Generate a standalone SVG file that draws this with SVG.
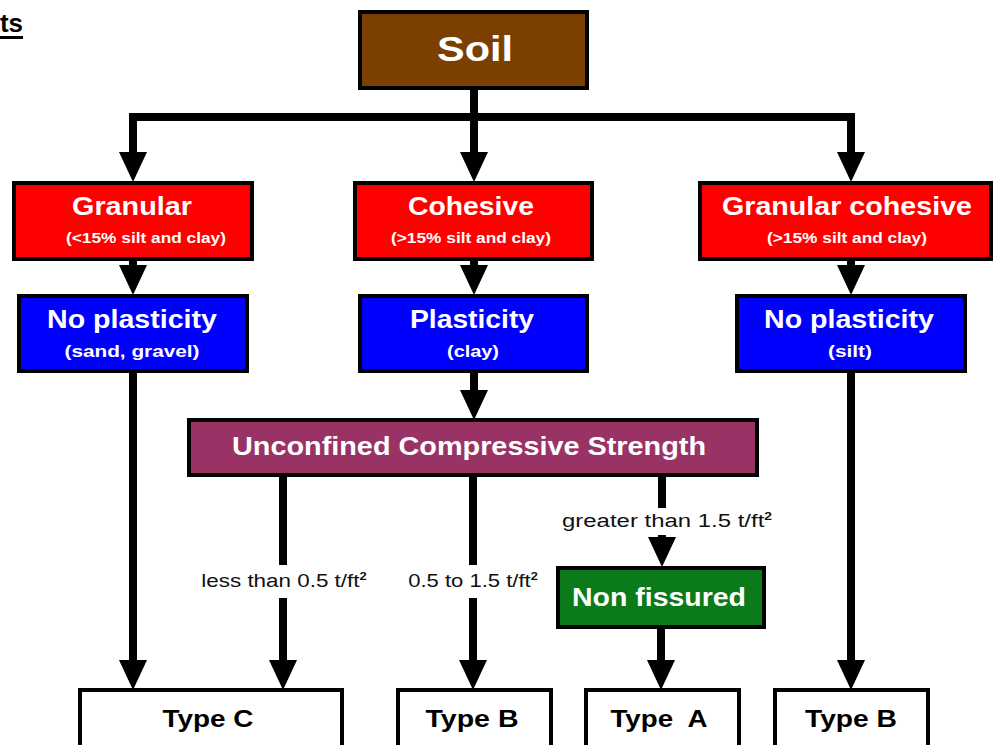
<svg xmlns="http://www.w3.org/2000/svg" width="994" height="745" viewBox="0 0 994 745">
<style>
.box{stroke:#000;stroke-width:4}
.t{font-family:"Liberation Sans",Arial,sans-serif;font-weight:bold;text-anchor:middle}
.w{fill:#fff}
.k{fill:#000}
.lbl{font-family:"Liberation Sans",Arial,sans-serif;font-size:19px;fill:#111;text-anchor:middle}
.sup{font-size:11px;font-weight:bold}
.c{stroke:#000;stroke-width:8;fill:none}
</style>
<defs>
<marker id="ah" markerUnits="userSpaceOnUse" markerWidth="32" markerHeight="30" viewBox="0 -15 32 30" refX="0" refY="0" orient="auto">
<path d="M0,-14 L30,0 L0,14 z" fill="#000"/>
</marker>
</defs>
<rect width="994" height="745" fill="#fff"/>
<g id="title">
<text x="23" y="32" class="t k" style="font-size:26px;text-anchor:end">ts</text>
<rect x="0" y="36" width="23" height="3" fill="#000"/>
</g>
<g id="connectors">
<path class="c" d="M474,88 V117 M129,117 H855"/>
<path class="c" d="M133,117 V152" marker-end="url(#ah)"/>
<path class="c" d="M474,117 V152" marker-end="url(#ah)"/>
<path class="c" d="M851,117 V152" marker-end="url(#ah)"/>
<path class="c" d="M133,260 V265" marker-end="url(#ah)"/>
<path class="c" d="M474,260 V265" marker-end="url(#ah)"/>
<path class="c" d="M851,260 V265" marker-end="url(#ah)"/>
<path class="c" d="M133,372 V660" marker-end="url(#ah)"/>
<path class="c" d="M851,372 V660" marker-end="url(#ah)"/>
<path class="c" d="M474,372 V390" marker-end="url(#ah)"/>
<path class="c" d="M283,475 V565"/>
<path class="c" d="M283,598 V660" marker-end="url(#ah)"/>
<path class="c" d="M473,475 V565"/>
<path class="c" d="M473,598 V660" marker-end="url(#ah)"/>
<path class="c" d="M662,475 V508"/>
<path class="c" d="M662,535 V537" marker-end="url(#ah)"/>
<path class="c" d="M661,627 V660" marker-end="url(#ah)"/>
<text transform="translate(284,587) scale(1.18,1)" class="lbl">less than 0.5 t/ft<tspan dy="-7" class="sup">2</tspan></text>
<text transform="translate(473,587) scale(1.16,1)" class="lbl">0.5 to 1.5 t/ft<tspan dy="-7" class="sup">2</tspan></text>
<text transform="translate(667,527) scale(1.26,1)" class="lbl">greater than 1.5 t/ft<tspan dy="-7" class="sup">2</tspan></text>
</g>
<g id="soil">
<rect x="360" y="12" width="227" height="76" class="box" fill="#7b3f00"/>
<text x="475" y="61" class="t w" style="font-size:35px" textLength="76" lengthAdjust="spacingAndGlyphs">Soil</text>
</g>
<g id="granular">
<rect x="14" y="183" width="238" height="76" class="box" fill="#ff0000"/>
<text x="132" y="215" class="t w" style="font-size:25px" textLength="120" lengthAdjust="spacingAndGlyphs">Granular</text>
<text x="146" y="243" class="t w" style="font-size:15px" textLength="160" lengthAdjust="spacingAndGlyphs">(&lt;15% silt and clay)</text>
</g>
<g id="cohesive">
<rect x="355" y="183" width="237" height="76" class="box" fill="#ff0000"/>
<text x="471" y="215" class="t w" style="font-size:25px" textLength="126" lengthAdjust="spacingAndGlyphs">Cohesive</text>
<text x="471" y="243" class="t w" style="font-size:15px" textLength="160" lengthAdjust="spacingAndGlyphs">(&gt;15% silt and clay)</text>
</g>
<g id="granular-cohesive">
<rect x="700" y="183" width="291" height="76" class="box" fill="#ff0000"/>
<text x="847" y="215" class="t w" style="font-size:25px" textLength="250" lengthAdjust="spacingAndGlyphs">Granular cohesive</text>
<text x="847" y="243" class="t w" style="font-size:15px" textLength="160" lengthAdjust="spacingAndGlyphs">(&gt;15% silt and clay)</text>
</g>
<g id="no-plasticity-left">
<rect x="19" y="296" width="228" height="75" class="box" fill="#0000ff"/>
<text x="132" y="328" class="t w" style="font-size:25px" textLength="170" lengthAdjust="spacingAndGlyphs">No plasticity</text>
<text x="132" y="357" class="t w" style="font-size:16px" textLength="135" lengthAdjust="spacingAndGlyphs">(sand, gravel)</text>
</g>
<g id="plasticity">
<rect x="360" y="296" width="227" height="75" class="box" fill="#0000ff"/>
<text x="472" y="328" class="t w" style="font-size:25px" textLength="124" lengthAdjust="spacingAndGlyphs">Plasticity</text>
<text x="473" y="357" class="t w" style="font-size:16px" textLength="52" lengthAdjust="spacingAndGlyphs">(clay)</text>
</g>
<g id="no-plasticity-right">
<rect x="737" y="296" width="228" height="75" class="box" fill="#0000ff"/>
<text x="849" y="328" class="t w" style="font-size:25px" textLength="170" lengthAdjust="spacingAndGlyphs">No plasticity</text>
<text x="850" y="357" class="t w" style="font-size:16px" textLength="44" lengthAdjust="spacingAndGlyphs">(silt)</text>
</g>
<g id="ucs">
<rect x="189" y="420" width="568" height="55" class="box" fill="#993366"/>
<text x="469" y="455" class="t w" style="font-size:26px" textLength="474" lengthAdjust="spacingAndGlyphs">Unconfined Compressive Strength</text>
</g>
<g id="non-fissured">
<rect x="558" y="568" width="206" height="59" class="box" fill="#0a7a1a"/>
<text x="659" y="606" class="t w" style="font-size:25px" textLength="174" lengthAdjust="spacingAndGlyphs">Non fissured</text>
</g>
<g id="type-c">
<rect x="80" y="690" width="262" height="70" class="box" fill="#fff"/>
<text x="208" y="727" class="t k" style="font-size:24px" textLength="91" lengthAdjust="spacingAndGlyphs">Type C</text>
</g>
<g id="type-b-mid">
<rect x="398" y="690" width="153" height="70" class="box" fill="#fff"/>
<text x="472" y="727" class="t k" style="font-size:24px" textLength="93" lengthAdjust="spacingAndGlyphs">Type B</text>
</g>
<g id="type-a">
<rect x="586" y="690" width="153" height="70" class="box" fill="#fff"/>
<text x="659" y="727" class="t k" style="font-size:24px" textLength="97" lengthAdjust="spacingAndGlyphs" xml:space="preserve">Type  A</text>
</g>
<g id="type-b-right">
<rect x="775" y="690" width="153" height="70" class="box" fill="#fff"/>
<text x="851" y="727" class="t k" style="font-size:24px" textLength="92" lengthAdjust="spacingAndGlyphs">Type B</text>
</g>
</svg>
